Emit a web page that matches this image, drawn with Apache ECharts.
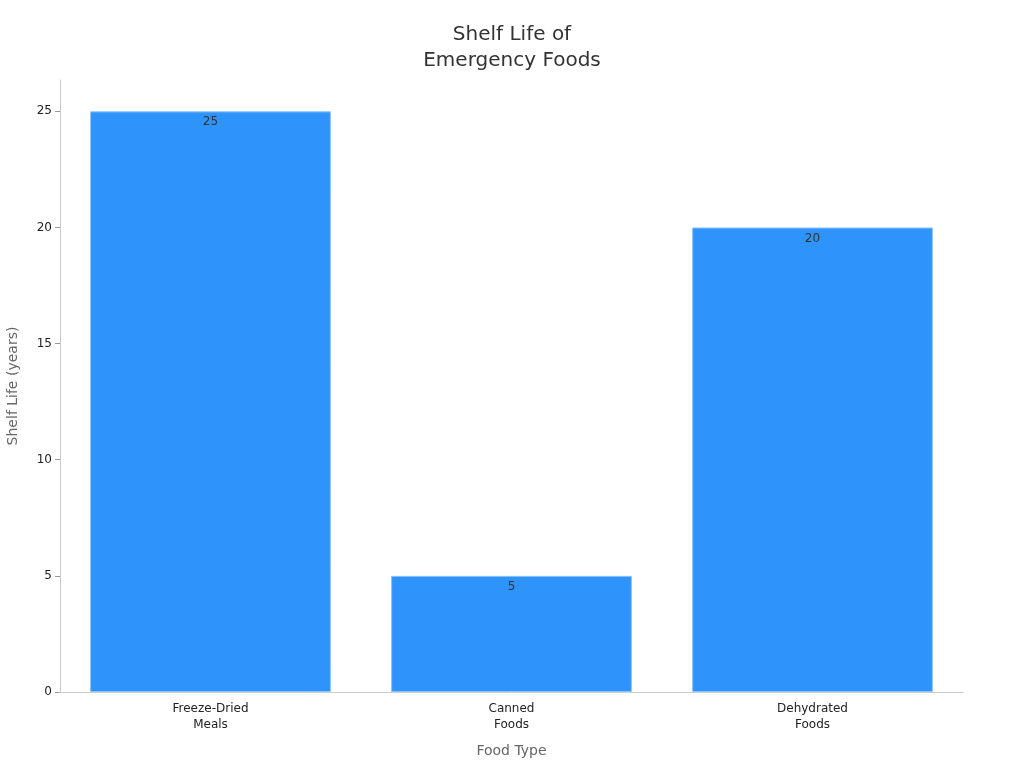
<!DOCTYPE html>
<html>
<head>
<meta charset="utf-8">
<script src="https://cdn.jsdelivr.net/npm/echarts@6/dist/echarts.min.js"></script>
<style>
  html, body { margin: 0; padding: 0; background: #fff; }
  #main { width: 1024px; height: 768px; }
</style>
</head>
<body>
<div id="main"></div>
<script>
// 类别
const categories = ['Freeze-Dried\nMeals', 'Canned\nFoods', 'Dehydrated\nFoods'];
// 保质期（年）
const shelfLife = [25, 5, 20];

var myChart = echarts.init(document.getElementById('main'));

var option = {
  textStyle: { fontFamily: 'DejaVu Sans' },
  title: {
    text: 'Shelf Life of\nEmergency Foods',
    left: 'center',
    top: 17,
    textStyle: { fontSize: 20, fontWeight: 'normal', color: '#333', lineHeight: 26, fontFamily: 'DejaVu Sans' }
  },
  grid: { left: 60, right: 61, top: 80, bottom: 76, outerBoundsMode: 'none' },
  xAxis: {
    type: 'category',
    data: categories,
    name: 'Food Type',
    nameLocation: 'middle',
    nameGap: 52,
    nameTextStyle: { fontSize: 14, color: '#666' },
    axisLine: { lineStyle: { color: '#ccc' } },
    axisTick: { alignWithLabel: true, length: 5, lineStyle: { color: '#333' } },
    axisLabel: { fontSize: 12, color: '#222', lineHeight: 16, margin: 9 },
    z: 3
  },
  yAxis: {
    type: 'value',
    min: 0,
    max: 26.35,
    interval: 5,
    name: 'Shelf Life (years)',
    nameLocation: 'middle',
    nameGap: 40,
    nameTextStyle: { fontSize: 14, color: '#666' },
    axisLine: { show: true, lineStyle: { color: '#ccc' } },
    axisTick: { show: true, length: 5, lineStyle: { color: '#999' } },
    axisLabel: { fontSize: 12, color: '#222', showMaxLabel: false },
    splitLine: { show: false }
  },
  series: [{
    type: 'bar',
    data: shelfLife,
    barWidth: '80%',
    itemStyle: { color: '#2e93fa', borderColor: '#8cc4fb', borderWidth: 1 },
    label: {
      show: true,
      position: 'insideTop',
      distance: 5,
      fontSize: 12,
      color: '#333'
    }
  }]
};

myChart.setOption(option);
</script>
</body>
</html>
